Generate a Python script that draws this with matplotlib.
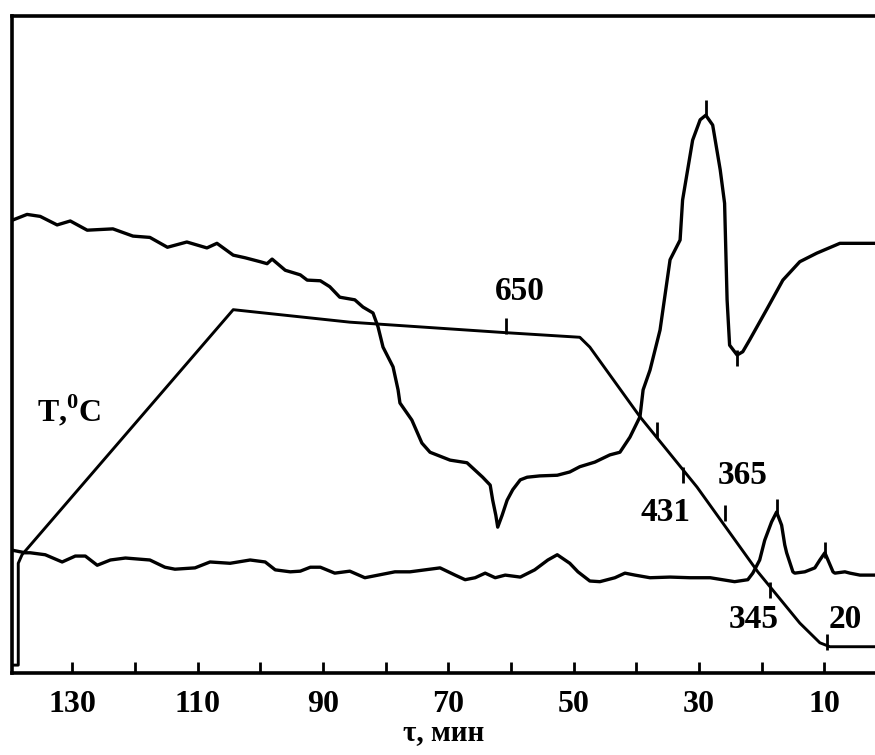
"""Thermogram: DTA trace, heating/cooling temperature trace and a second trace vs time."""
import matplotlib
matplotlib.use("Agg")
import matplotlib.pyplot as plt
from matplotlib.ticker import FixedLocator, NullFormatter

plt.rcParams["font.family"] = ["Liberation Serif", "DejaVu Serif"]
plt.rcParams["font.weight"] = "bold"
plt.rcParams["mathtext.fontset"] = "custom"
plt.rcParams["mathtext.rm"] = "Liberation Serif:bold"
plt.rcParams["mathtext.bf"] = "Liberation Serif:bold"

# time axis in minutes (runs right to left), signal in arbitrary chart units 0..100
upper_t = [139.6, 137.2, 135.1, 132.4, 130.3, 127.6, 123.5, 120.3, 117.6, 114.8,
           111.7, 108.5, 106.9, 104.3, 102.4, 100.0, 98.9, 98.1, 96.0, 93.6,
           92.5, 90.4, 88.9, 87.3, 84.9, 83.6, 82.0, 81.2, 80.4, 78.8,
           78.0, 77.7, 75.8, 74.2, 72.9, 69.7, 67.0, 64.5, 63.3, 62.9,
           62.4, 62.1, 61.4, 60.6, 59.7, 58.5, 57.4, 55.4, 52.6, 50.6,
           49.0, 46.6, 44.2, 42.6, 41.0, 39.4, 38.9, 37.8, 36.2, 34.6,
           33.8, 33.0, 32.6, 31.0, 29.8, 28.9, 27.8, 26.6, 25.9, 25.5,
           25.1, 23.9, 23.0, 21.9, 19.2, 16.6, 13.9, 11.2, 7.5, 1.9]
upper_u = [68.9, 69.8, 69.5, 68.2, 68.8, 67.4, 67.6, 66.5, 66.3, 64.8,
           65.6, 64.7, 65.4, 63.6, 63.2, 62.6, 62.3, 63.0, 61.3, 60.6,
           59.8, 59.7, 58.8, 57.2, 56.8, 55.7, 54.8, 52.7, 49.6, 46.6,
           43.1, 41.1, 38.5, 35.0, 33.6, 32.4, 32.0, 29.8, 28.6, 26.3,
           24.0, 22.2, 24.0, 26.3, 27.9, 29.4, 29.8, 30.0, 30.1, 30.6,
           31.4, 32.1, 33.2, 33.6, 35.9, 39.0, 43.1, 46.1, 52.2, 62.9,
           64.4, 65.9, 72.0, 81.1, 84.2, 84.9, 83.4, 76.6, 71.5, 56.8,
           49.9, 48.4, 48.9, 50.7, 55.3, 59.8, 62.6, 63.9, 65.4, 65.4]

temp_t = [139.25, 138.6, 138.6, 138.0, 104.3, 85.7, 60.8, 49.0, 47.4, 39.4,
          30.3, 20.6, 13.9, 10.7, 9.1, 1.9]
temp_u = [1.2, 1.2, 16.7, 18.0, 55.3, 53.4, 51.8, 51.1, 49.6, 39.0,
          28.3, 15.4, 7.6, 4.6, 4.0, 4.0]

lower_t = [139.6, 137.5, 136.7, 134.3, 131.6, 129.5, 127.9, 126.0, 123.9, 121.5,
           117.6, 115.2, 113.6, 110.4, 108.0, 104.8, 101.6, 99.2, 97.6, 95.2,
           93.6, 92.0, 90.4, 88.1, 85.7, 83.3, 81.7, 78.5, 76.1, 73.7,
           71.3, 68.9, 67.3, 65.7, 64.1, 62.5, 60.9, 58.5, 56.2, 54.1,
           52.6, 50.6, 49.3, 47.4, 45.8, 43.4, 41.8, 40.2, 37.8, 34.6,
           31.4, 28.2, 24.3, 22.2, 21.4, 20.3, 19.5, 18.4, 17.6, 16.8,
           16.3, 16.0, 15.0, 14.7, 13.1, 11.5, 10.7, 9.9, 8.6, 8.3,
           6.7, 5.9, 4.3, 1.9]
lower_u = [18.7, 18.3, 18.3, 18.0, 16.9, 17.8, 17.8, 16.4, 17.2, 17.5,
           17.2, 16.1, 15.8, 16.0, 16.9, 16.7, 17.2, 16.9, 15.7, 15.4,
           15.5, 16.1, 16.1, 15.2, 15.5, 14.5, 14.8, 15.4, 15.4, 15.7,
           16.0, 14.9, 14.2, 14.5, 15.2, 14.5, 14.9, 14.6, 15.7, 17.2,
           18.0, 16.7, 15.4, 14.0, 13.9, 14.5, 15.2, 14.9, 14.5, 14.6,
           14.5, 14.5, 13.9, 14.2, 15.2, 17.2, 20.2, 23.0, 24.5, 22.5,
           19.5, 18.3, 15.4, 15.2, 15.4, 16.0, 17.2, 18.3, 15.4, 15.2,
           15.4, 15.2, 14.9, 14.9]

# short marks drawn on the traces
mark_t = [28.9, 23.9, 60.8, 36.7, 32.6, 25.9, 18.7, 9.6, 17.6, 9.9]
mark_u = [86.0, 48.0, 52.8, 37.0, 30.1, 24.4, 12.6, 4.7, 25.3, 18.7]

# temperature labels
lab_text = ["650", "431", "365", "345", "20"]
lab_t = [58.5, 35.4, 23.1, 21.2, 6.6]
lab_u = [58.1, 24.5, 30.1, 8.1, 8.1]

major_ticks = [130, 110, 90, 70, 50, 30, 10]
minor_ticks = [120, 100, 80, 60, 40, 20]

fig = plt.figure(figsize=(8.75, 7.55), dpi=100)
ax = fig.add_axes([12 / 875, 82 / 755, 863 / 875, 657 / 755])

ax.plot(upper_t, upper_u, color="black", lw=2.4, solid_joinstyle="round")
ax.plot(temp_t, temp_u, color="black", lw=2.1, solid_joinstyle="round")
ax.plot(lower_t, lower_u, color="black", lw=2.4, solid_joinstyle="round")
ax.plot(mark_t, mark_u, ls="none", marker="|", ms=11, mew=2, color="black")

for s, t, u in zip(lab_text, lab_t, lab_u):
    ax.text(t, u, s, ha="center", va="center", fontsize=24, fontweight="bold")
ax.text(130.5, 40.0, r"T,$^{\mathbf{0}}$C", ha="center", va="center",
        fontsize=23, fontweight="bold")

ax.set_xlim(139.6, 1.9)
ax.set_ylim(0, 100)
ax.xaxis.set_major_locator(FixedLocator(major_ticks))
ax.xaxis.set_minor_locator(FixedLocator(minor_ticks))
ax.xaxis.set_minor_formatter(NullFormatter())
ax.tick_params(axis="x", which="both", direction="in", length=8, width=2,
               labelsize=23, pad=12)
ax.set_yticks([])
for lab in ax.get_xticklabels():
    lab.set_fontweight("bold")
ax.set_xlabel("τ, мин", fontsize=21, fontweight="bold", labelpad=0)

for s in ("left", "top", "bottom"):
    ax.spines[s].set_linewidth(2.6)
ax.spines["right"].set_visible(False)

fig.savefig("out.png", dpi=100)
